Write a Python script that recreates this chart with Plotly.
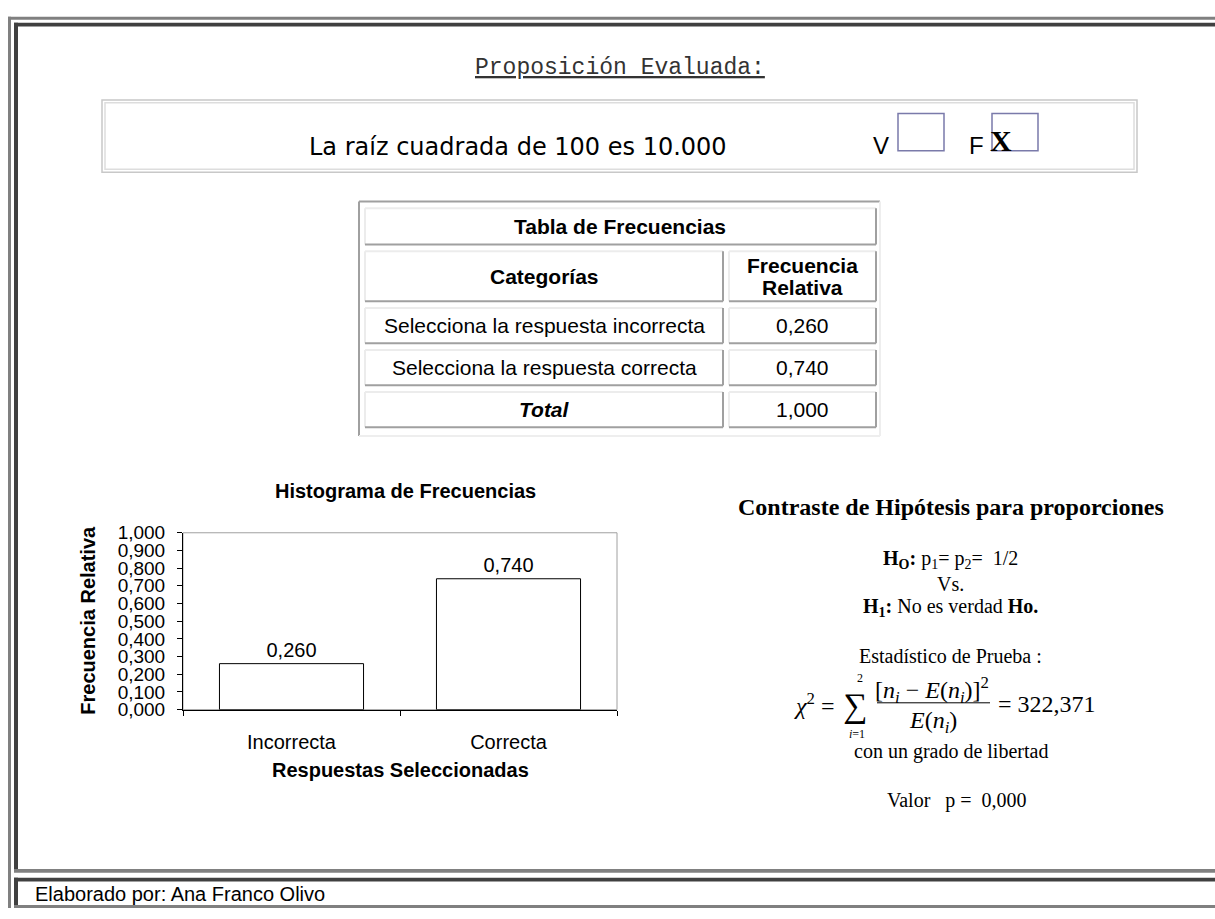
import plotly.graph_objects as go

# ---- data ----
proposicion = "La raíz cuadrada de 100 es 10.000"
tabla_titulo = "Tabla de Frecuencias"
col_headers = ["Categorías", "Frecuencia", "Relativa"]
categorias_tabla = ["Selecciona la respuesta incorrecta", "Selecciona la respuesta correcta"]
categorias = ["Incorrecta", "Correcta"]
frec_relativa = [0.260, 0.740]
total = 1.000
chi2 = "322,371"
valor_p = "0,000"
autor = "Elaborado por: Ana Franco Olivo"

W, H = 1215, 919


def px(x):
    return x / W


def py(y):
    return 1 - y / H


def fmt(v):
    return f"{v:.3f}".replace(".", ",")


shapes = []
annotations = []


def rect(x0, y0, x1, y1, fill=None, line=None, lw=1):
    shapes.append(dict(type="rect", xref="paper", yref="paper",
                       x0=px(x0), x1=px(x1), y0=py(y1), y1=py(y0),
                       fillcolor=fill or "rgba(0,0,0,0)",
                       line=dict(color=line or "rgba(0,0,0,0)", width=lw if line else 0)))


def hline(x0, x1, y, color, lw):
    shapes.append(dict(type="line", xref="paper", yref="paper",
                       x0=px(x0), x1=px(x1), y0=py(y), y1=py(y),
                       line=dict(color=color, width=lw)))


def vline(x, y0, y1, color, lw):
    shapes.append(dict(type="line", xref="paper", yref="paper",
                       x0=px(x), x1=px(x), y0=py(y0), y1=py(y1),
                       line=dict(color=color, width=lw)))


def bevel(x0, y0, x1, y1, light, dark, lw=2):
    # html style 3d border: top/left one colour, bottom/right another
    hline(x0, x1, y0, light, lw)
    vline(x0, y0, y1, light, lw)
    hline(x0, x1, y1, dark, lw)
    vline(x1, y0, y1, dark, lw)


def text(x, y, s, size, family="Liberation Sans, Arial", color="black",
         xanchor="center", yanchor="middle", angle=0):
    annotations.append(dict(x=px(x), y=py(y), xref="paper", yref="paper",
                            text=s, showarrow=False, xanchor=xanchor, yanchor=yanchor,
                            textangle=angle,
                            font=dict(size=size, family=family, color=color)))


# ---- page frame ----
rect(8, 7, 11, 919, fill="#808080")
rect(8, 7, W, 10, fill="#808080")
rect(14, 13, 18, 880, fill="#404040")
rect(14, 13, W, 17, fill="#404040")
rect(14, 879, W, 883, fill="#808080")
rect(14, 888, W, 892, fill="#404040")
rect(14, 888, 18, 917, fill="#404040")
rect(14, 916, W, 919, fill="#808080")

# ---- proposition header ----
text(620, 59, "<u>Proposición Evaluada:</u>", 23, family="Liberation Mono, Courier New", color="#333333")
rect(102, 92, 1137, 166, line="#c8c8c8", lw=1.5)
rect(105, 95, 1134, 163, line="#dddddd", lw=1.5)
text(307, 140, proposicion, 24, family="DejaVu Sans, Verdana", xanchor="left")
text(881, 139, "V", 24)
rect(898, 106, 944, 144, line="#7a7aaa", lw=1.5)
text(976, 139, "F", 24)
rect(992, 106, 1038, 144, line="#7a7aaa", lw=1.5)
text(1001, 134, "<b>X</b>", 30, family="Liberation Serif, Times New Roman")

# ---- frequency table ----
bevel(359, 196, 880, 436, "#a0a0a0", "#eeeeee")
light, dark = "#ececec", "#a0a0a0"
bevel(365, 203, 876, 240, light, dark)
text(620, 222, f"<b>{tabla_titulo}</b>", 21)
rows = [(247, 298), (305, 341), (348, 384), (391, 427)]
for y0, y1 in rows:
    bevel(365, y0, 723, y1, light, dark)
    bevel(729, y0, 876, y1, light, dark)
text(544, 273, f"<b>{col_headers[0]}</b>", 21)
text(802, 261, f"<b>{col_headers[1]}</b>", 21)
text(802, 284, f"<b>{col_headers[2]}</b>", 21)
for (y0, y1), cat, v in zip(rows[1:3], categorias_tabla, frec_relativa):
    text(544, (y0 + y1) / 2, cat, 21)
    text(802, (y0 + y1) / 2, fmt(v), 21)
text(544, 409, "<b><i>Total</i></b>", 21)
text(802, 409, fmt(total), 21)

# ---- histogram ----
fig = go.Figure()
fig.add_trace(go.Bar(
    x=categorias, y=frec_relativa,
    marker=dict(color="white", line=dict(color="black", width=1)),
    text=[fmt(v) for v in frec_relativa], textposition="outside",
    textfont=dict(size=20, family="Liberation Sans, Arial", color="black"),
    cliponaxis=False, hoverinfo="skip",
))
shapes.append(dict(type="rect", xref="x domain", yref="y domain", x0=0, x1=1, y0=0, y1=1,
                   line=dict(color="#a0a0a0", width=1), layer="below"))
text(405, 492, "<b>Histograma de Frecuencias</b>", 20)
text(88, 625, "<b>Frecuencia Relativa</b>", 20, angle=-90)
text(400, 778, "<b>Respuestas Seleccionadas</b>", 20)

# ---- hypothesis test ----
serif = "Liberation Serif, Times New Roman"
cx = 951
text(cx, 509, "<b>Contraste de Hipótesis para proporciones</b>", 24, family=serif)
text(cx, 562, "<b>H<sub>O</sub>:</b> p<sub>1</sub>= p<sub>2</sub>=\u00a0 1/2", 20, family=serif)
text(cx, 587, "Vs.", 20, family=serif)
text(cx, 611, "<b>H<sub>1</sub>:</b> No es verdad <b>Ho.</b>", 20, family=serif)
text(cx, 661, "Estadístico de Prueba :", 20, family=serif)
text(837, 710, "<i>χ</i><sup>2</sup> =", 24, family=serif, xanchor="right")
text(855, 712, "∑", 34, family=serif)
text(860, 684, "2", 12, family=serif)
text(857, 741, "<i>i</i>=1", 12, family=serif)
text(932, 696, "[<i>n<sub>i</sub></i> − <i>E</i>(<i>n<sub>i</sub></i>)]<sup>2</sup>", 24, family=serif)
hline(877, 990, 709, "black", 1)
text(933, 729, "<i>E</i>(<i>n<sub>i</sub></i>)", 24, family=serif)
text(996, 710, f"= {chi2}", 24, family=serif, xanchor="left")
text(cx, 759, "con un grado de libertad", 20, family=serif)
text(cx + 6, 809, f"Valor\u00a0\u00a0 p =\u00a0 {valor_p}", 20, family=serif)

# ---- footer ----
text(33, 905, autor, 20, xanchor="left")

fig.update_layout(
    width=W, height=H, margin=dict(l=0, r=0, t=0, b=0),
    paper_bgcolor="white", plot_bgcolor="white",
    separators=",.", showlegend=False, bargap=0.336,
    shapes=shapes, annotations=annotations,
    xaxis=dict(domain=[px(183), px(617)], type="category", categoryarray=categorias,
               tickson="boundaries", ticks="outside", ticklen=5, tickcolor="black",
               showline=True, linecolor="black", linewidth=1, showgrid=False,
               tickfont=dict(size=20, family="Liberation Sans, Arial", color="black"),
               ticklabelstandoff=14, fixedrange=True),
    yaxis=dict(domain=[py(716), py(535)], range=[0, 1], dtick=0.1, tickformat=".3f",
               ticks="outside", ticklen=5, tickcolor="black",
               showline=True, linecolor="black", linewidth=1, showgrid=False, zeroline=False,
               tickfont=dict(size=19, family="Liberation Sans, Arial", color="black"),
               ticklabelstandoff=8, fixedrange=True),
)

fig.write_html("out.html", config={"displayModeBar": False},
               post_script="document.body.style.margin='0';document.body.style.overflow='hidden';")
